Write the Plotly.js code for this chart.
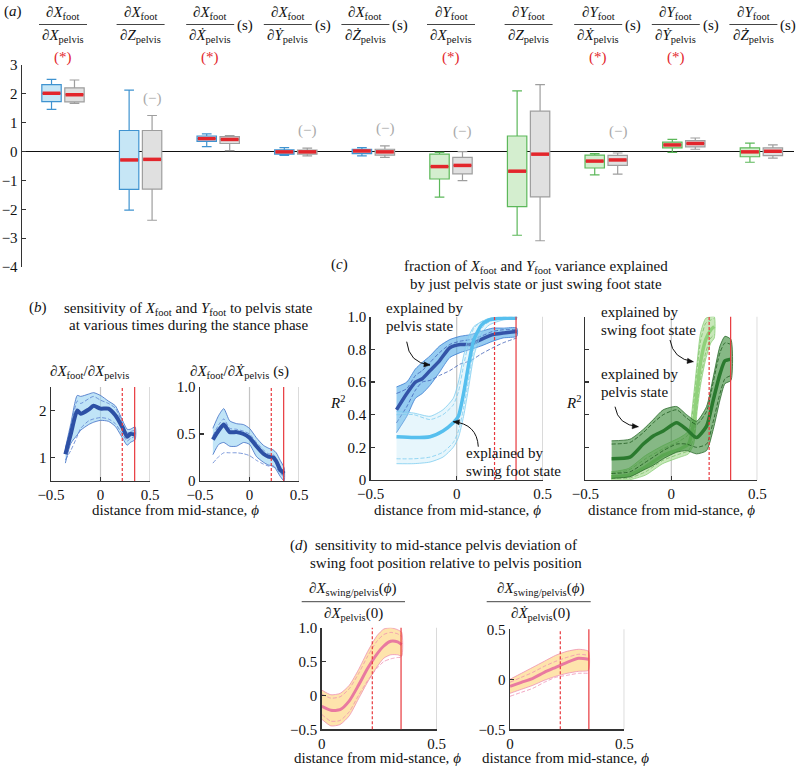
<!DOCTYPE html>
<html><head><meta charset="utf-8">
<script src="https://cdn.plot.ly/plotly-3.0.1.min.js"></script>
<style>html,body{margin:0;padding:0;background:#fff}</style>
</head><body><div id="chart" style="width:796px;height:767px"></div>
<script>
// ---------------- DATA ----------------
// (a) box summaries: coloured boxes (blue for X_foot, green for Y_foot) and grey boxes
const headNum = ['∂<i>X</i><sub>foot</sub>','∂<i>X</i><sub>foot</sub>','∂<i>X</i><sub>foot</sub>','∂<i>X</i><sub>foot</sub>','∂<i>X</i><sub>foot</sub>',
                 '∂<i>Y</i><sub>foot</sub>','∂<i>Y</i><sub>foot</sub>','∂<i>Y</i><sub>foot</sub>','∂<i>Y</i><sub>foot</sub>','∂<i>Y</i><sub>foot</sub>'];
const headDen = ['∂<i>X</i><sub>pelvis</sub>','∂<i>Z</i><sub>pelvis</sub>','∂<i>Ẋ</i><sub>pelvis</sub>','∂<i>Ẏ</i><sub>pelvis</sub>','∂<i>Ż</i><sub>pelvis</sub>',
                 '∂<i>X</i><sub>pelvis</sub>','∂<i>Z</i><sub>pelvis</sub>','∂<i>Ẋ</i><sub>pelvis</sub>','∂<i>Ẏ</i><sub>pelvis</sub>','∂<i>Ż</i><sub>pelvis</sub>'];
const headUnit = ['','','(s)','(s)','(s)','','','(s)','(s)','(s)'];
const starMark = ['(*)','','(*)','','','(*)','','(*)','(*)',''];
const dashMark = ['','(−)','','(−)','(−)','(−)','','(−)','',''];

const colLo  = [1.46,-2.03,0.17,-0.13,-0.15,-1.58,-2.90,-0.81,-0.03,-0.37];
const colQ1  = [1.73,-1.31,0.35,-0.09,-0.07,-0.95,-1.91,-0.57, 0.13,-0.18];
const colMed = [2.02,-0.29,0.45,-0.01, 0.02,-0.52,-0.68,-0.33, 0.23,-0.01];
const colQ3  = [2.32, 0.73,0.54, 0.06, 0.08,-0.09, 0.54,-0.12, 0.33, 0.13];
const colHi  = [2.50, 2.13,0.61, 0.14, 0.14,-0.03, 2.10,-0.07, 0.42, 0.29];

const grayLo  = [1.67,-2.38,0.03,-0.15,-0.20,-1.01,-3.09,-0.78,0.08,-0.23];
const grayQ1  = [1.72,-1.30,0.28,-0.09,-0.12,-0.77,-1.57,-0.48,0.16,-0.14];
const grayMed = [1.97,-0.27,0.42,-0.01,-0.01,-0.48,-0.09,-0.29,0.28, 0.01];
const grayQ3  = [2.21, 0.73,0.52, 0.05, 0.08,-0.20, 1.40,-0.13,0.38, 0.13];
const grayHi  = [2.48, 1.25,0.55, 0.12, 0.20, 0.00, 2.32,-0.05,0.47, 0.23];

const aTickVals = [-4,-3,-2,-1,0,1,2,3];

// (b) sensitivity curves
const bLx   = [-0.355,-0.30,-0.235,-0.20,-0.12,-0.07,0.00,0.08,0.15,0.22,0.27,0.30,0.35];
const bLm   = [1.07,1.50,2.00,1.93,2.02,2.10,2.04,2.04,1.90,1.65,1.44,1.50,1.49];
const bLup  = [1.20,1.72,2.32,2.30,2.35,2.38,2.32,2.20,2.10,1.80,1.60,1.60,1.65];
const bLlo  = [0.88,1.30,1.48,1.58,1.70,1.75,1.79,1.77,1.66,1.42,1.26,1.32,1.38];
const bLdh  = [1.15,1.62,2.20,2.15,2.25,2.30,2.22,2.15,2.05,1.74,1.52,1.55,1.58];
const bLdl  = [0.95,1.15,1.45,1.62,1.78,1.82,1.85,1.82,1.72,1.50,1.35,1.40,1.45];

const bRx   = [-0.37,-0.31,-0.26,-0.20,-0.13,-0.06,0.00,0.07,0.14,0.19,0.24,0.27,0.31,0.35];
const bRm   = [0.44,0.54,0.60,0.52,0.52,0.50,0.46,0.37,0.29,0.26,0.25,0.21,0.12,0.08];
const bRup  = [0.56,0.70,0.77,0.64,0.61,0.60,0.56,0.46,0.38,0.35,0.33,0.30,0.22,0.14];
const bRlo  = [0.28,0.39,0.41,0.37,0.37,0.41,0.39,0.26,0.20,0.17,0.16,0.12,0.05,0.00];
const bRdh  = [0.48,0.60,0.66,0.56,0.55,0.53,0.50,0.41,0.33,0.29,0.28,0.24,0.15,0.10];
const bRdl  = [0.19,0.26,0.30,0.30,0.30,0.29,0.27,0.22,0.18,0.16,0.15,0.14,0.08,0.04];

// (c) R^2 curves
const cPx   = [-0.35,-0.29,-0.24,-0.20,-0.155,-0.10,-0.04,0.02,0.08,0.14,0.21,0.27,0.35];
const cPm   = [0.43,0.53,0.60,0.62,0.67,0.73,0.81,0.83,0.83,0.86,0.89,0.90,0.91];
const cPup  = [0.57,0.60,0.68,0.72,0.76,0.82,0.86,0.88,0.89,0.91,0.93,0.93,0.93];
const cPlo  = [0.29,0.39,0.50,0.53,0.58,0.66,0.75,0.78,0.80,0.82,0.85,0.87,0.88];
const cPdh  = [0.53,0.56,0.64,0.67,0.72,0.78,0.83,0.85,0.86,0.88,0.91,0.92,0.92];
const cPdl  = [0.35,0.45,0.55,0.60,0.61,0.64,0.67,0.71,0.73,0.77,0.81,0.84,0.87];

const cSx   = [-0.35,-0.25,-0.155,-0.08,-0.02,0.01,0.04,0.07,0.10,0.145,0.19,0.27,0.35];
const cSm   = [0.265,0.26,0.265,0.30,0.35,0.39,0.53,0.71,0.86,0.95,0.98,0.99,0.99];
const cSup  = [0.42,0.41,0.39,0.43,0.50,0.60,0.76,0.88,0.94,0.97,0.99,1.00,1.00];
const cSlo  = [0.10,0.10,0.11,0.14,0.20,0.26,0.39,0.57,0.76,0.90,0.95,0.98,0.99];
const cSdh  = [0.40,0.40,0.37,0.40,0.46,0.54,0.70,0.84,0.93,0.97,0.99,1.00,1.00];
const cSdl  = [0.13,0.13,0.14,0.17,0.23,0.30,0.44,0.62,0.80,0.93,0.97,0.99,0.99];

const gPx   = [-0.347,-0.24,-0.163,-0.105,-0.047,0.031,0.089,0.147,0.205,0.244,0.283,0.312,0.347];
const gPm   = [0.13,0.14,0.22,0.27,0.30,0.35,0.31,0.26,0.33,0.49,0.65,0.73,0.74];
const gPup  = [0.24,0.25,0.31,0.37,0.43,0.45,0.40,0.36,0.45,0.63,0.82,0.88,0.86];
const gPlo  = [0.01,0.02,0.06,0.09,0.13,0.17,0.18,0.16,0.18,0.31,0.49,0.59,0.61];
const gPdh  = [0.22,0.23,0.29,0.35,0.40,0.43,0.38,0.34,0.42,0.60,0.78,0.84,0.83];
const gPdl  = [0.04,0.05,0.10,0.14,0.18,0.22,0.22,0.20,0.22,0.36,0.53,0.62,0.64];

const gSx   = [-0.35,-0.25,-0.15,-0.05,0.05,0.10,0.13,0.15,0.17,0.20,0.23,0.25];
const gSm   = [0.02,0.03,0.08,0.15,0.19,0.22,0.35,0.55,0.72,0.86,0.92,0.94];
const gSup  = [0.05,0.07,0.15,0.21,0.26,0.30,0.52,0.72,0.90,0.99,1.00,1.00];
const gSlo  = [0.00,0.00,0.03,0.10,0.14,0.16,0.22,0.42,0.58,0.74,0.84,0.87];
const gSdh  = [0.04,0.06,0.13,0.19,0.24,0.28,0.47,0.68,0.85,0.96,0.98,0.99];
const gSdl  = [0.01,0.01,0.05,0.12,0.16,0.18,0.26,0.46,0.62,0.78,0.87,0.89];

// (d) sensitivity of swing/pelvis position
const dLx   = [0,0.04,0.08,0.12,0.16,0.20,0.24,0.27,0.30,0.33,0.348];
const dLm   = [-0.16,-0.22,-0.21,-0.08,0.15,0.40,0.61,0.73,0.80,0.79,0.75];
const dLup  = [0.08,0.01,0.03,0.15,0.38,0.65,0.88,0.98,1.00,0.97,0.93];
const dLlo  = [-0.35,-0.45,-0.43,-0.30,-0.05,0.20,0.42,0.55,0.60,0.60,0.58];
const dLdh  = [0.02,-0.04,-0.02,0.10,0.32,0.58,0.80,0.90,0.93,0.91,0.87];
const dLdl  = [-0.28,-0.38,-0.37,-0.24,0.00,0.22,0.40,0.50,0.54,0.56,0.56];

const dRx   = [0,0.05,0.10,0.15,0.20,0.25,0.30,0.343];
const dRm   = [-0.07,-0.03,0.01,0.07,0.12,0.17,0.21,0.20];
const dRup  = [0.00,0.06,0.12,0.18,0.24,0.28,0.30,0.28];
const dRlo  = [-0.14,-0.10,-0.06,-0.01,0.03,0.06,0.08,0.09];
const dRdh  = [-0.03,0.02,0.07,0.13,0.18,0.22,0.25,0.24];
const dRdl  = [-0.17,-0.13,-0.09,-0.03,0.02,0.04,0.06,0.06];

// reference phases (grey guides and red stance markers)
const greyGuides = [0, 0.5];
const stanceDashed = 0.22;
const stanceSolid = 0.345;

// ---------------- BUILD ----------------
const W = 796, H = 767;
const FONT = "'Liberation Serif', 'Times New Roman', 'DejaVu Serif', serif";
const px = x => x / W, py = y => 1 - y / H;
const idx = colMed.map((_, i) => i);
const OFF = 0.148, BW = 0.25;
const colPos = idx.map(i => i - OFF);
const grayPos = idx.map(i => i + OFF);
const isX = idx.map(i => i < 5);

const traces = [];
function boxTrace(pos, lo, q1, med, q3, hi, sel, line, fill) {
  const k = idx.filter(sel);
  return {type:'box', x:k.map(i=>pos[i]), lowerfence:k.map(i=>lo[i]), q1:k.map(i=>q1[i]),
    median:k.map(i=>med[i]), q3:k.map(i=>q3[i]), upperfence:k.map(i=>hi[i]),
    width:BW, whiskerwidth:0.5, boxpoints:false, line:{color:line,width:1.2}, fillcolor:fill,
    hoverinfo:'skip', xaxis:'x', yaxis:'y'};
}
traces.push(boxTrace(colPos,colLo,colQ1,colMed,colQ3,colHi,i=>isX[i],'#3f93d0','#c6e6f6'));
traces.push(boxTrace(colPos,colLo,colQ1,colMed,colQ3,colHi,i=>!isX[i],'#5cb85a','#d4eecf'));
traces.push(boxTrace(grayPos,grayLo,grayQ1,grayMed,grayQ3,grayHi,()=>true,'#9e9e9e','#e0e0e0'));
function medTrace(pos, med) {
  const x = [], y = [];
  idx.forEach(i => { x.push(pos[i]-BW/2+0.01, pos[i]+BW/2-0.01, null); y.push(med[i], med[i], null); });
  return {type:'scatter', mode:'lines', x, y, line:{color:'#e3262c', width:3.5}, hoverinfo:'skip', xaxis:'x', yaxis:'y'};
}
traces.push(medTrace(colPos, colMed));
traces.push(medTrace(grayPos, grayMed));

function band(xs, m, up, lo, dh, dl, ax, c, mw) {
  const xa = 'x'+ax, ya = 'y'+ax;
  const poly = {type:'scatter', mode:'lines', x: xs.concat(xs.slice().reverse()),
    y: up.concat(lo.slice().reverse()), fill:'toself', fillcolor:c.fill,
    line:{color:c.edge, width:0.8, shape:'spline', smoothing:0.6}, hoverinfo:'skip', xaxis:xa, yaxis:ya};
  const d1 = {type:'scatter', mode:'lines', x:xs, y:dh, line:{color:c.dash, width:0.8, dash:'4px,2px', shape:'spline', smoothing:0.6}, hoverinfo:'skip', xaxis:xa, yaxis:ya};
  const d2 = {type:'scatter', mode:'lines', x:xs, y:dl, line:{color:c.dash, width:0.8, dash:'4px,2px', shape:'spline', smoothing:0.6}, hoverinfo:'skip', xaxis:xa, yaxis:ya};
  const ml = {type:'scatter', mode:'lines', x:xs, y:m, line:{color:c.mean, width:mw, shape:'spline', smoothing:0.6}, hoverinfo:'skip', xaxis:xa, yaxis:ya};
  return [poly, d1, d2, ml];
}
const blueB = {fill:'rgba(150,210,242,0.6)', edge:'#3d6cc4', dash:'#5a7fd0', mean:'#2d50a5'};
traces.push(...band(bLx,bLm,bLup,bLlo,bLdh,bLdl,'2',blueB,4));
traces.push(...band(bRx,bRm,bRup,bRlo,bRdh,bRdl,'3',blueB,4));
traces.push(...band(cPx,cPm,cPup,cPlo,cPdh,cPdl,'4',{fill:'rgba(80,170,232,0.6)', edge:'#3a7bd0', dash:'#3f5fb8', mean:'#3454a8'},3.5));
traces.push(...band(cSx,cSm,cSup,cSlo,cSdh,cSdl,'4',{fill:'rgba(175,224,246,0.3)', edge:'#7dcdf0', dash:'#7dcdf0', mean:'#56bfee'},3.5));
traces.push(...band(gSx,gSm,gSup,gSlo,gSdh,gSdl,'5',{fill:'rgba(175,222,155,0.7)', edge:'#8ccf78', dash:'#7cbf68', mean:'#8fd17a'},3.5));
traces.push(...band(gPx,gPm,gPup,gPlo,gPdh,gPdl,'5',{fill:'rgba(60,140,58,0.62)', edge:'#2a6a2a', dash:'#1f5a1f', mean:'#2a7a2e'},3.5));
const pinkB = {fill:'rgb(254,228,172)', edge:'#ef90b2', dash:'#ef90b2', mean:'#e97aa0'};
traces.push(...band(dLx,dLm,dLup,dLlo,dLdh,dLdl,'6',pinkB,3));
traces.push(...band(dRx,dRm,dRup,dRlo,dRdh,dRdl,'7',pinkB,3));

// axes
const tf = {family:FONT, size:15, color:'#111'};
const common = {showline:true, linecolor:'#333', linewidth:1.4, ticks:'inside', ticklen:4, tickwidth:1.2, tickcolor:'#333',
  showgrid:false, zeroline:false, tickfont:tf, fixedrange:true};
function axis(domPx, range, extra) {
  return Object.assign({domain:[px(domPx[0]), px(domPx[1])], range}, common, extra||{});
}
function yaxisD(domPx, range, extra) {
  return Object.assign({domain:[py(domPx[0]), py(domPx[1])], range}, common, extra||{});
}
const xb = {tickmode:'array', tickvals:[-0.5,0,0.5], ticktext:['−0.5','0','0.5']};
const xd = {tickmode:'array', tickvals:[0,0.5], ticktext:['0','0.5']};
const cTicks = [0,0.2,0.4,0.6,0.8,1.0];
const cText = ['0','0.2','0.4','0.6','0.8','1.0'];

const layout = {
  width:W, height:H, margin:{l:0,r:0,t:0,b:0}, showlegend:false,
  paper_bgcolor:'#fff', plot_bgcolor:'rgba(0,0,0,0)', font:{family:FONT, size:15, color:'#111'},
  xaxis: {domain:[px(22), px(794)], range:[(22-63)/77.6, (794-63)/77.6], visible:false, fixedrange:true},
  yaxis: Object.assign({}, common, {domain:[py(267), py(65)], range:[-4,3], anchor:'x', tickmode:'array', tickvals:aTickVals,
    ticktext:aTickVals.map(v => v < 0 ? '−'+Math.abs(v) : String(v)),
    zeroline:true, zerolinecolor:'#111', zerolinewidth:1.5}),
  xaxis2: axis([51,150], [-0.5,0.5], Object.assign({anchor:'y2'}, xb)),
  yaxis2: yaxisD([481,387], [0.5,2.5], {anchor:'x2', tickmode:'array', tickvals:[1,2], ticktext:['1','2']}),
  xaxis3: axis([200,299], [-0.5,0.5], Object.assign({anchor:'y3'}, xb)),
  yaxis3: yaxisD([481,387], [0,1], {anchor:'x3', tickmode:'array', tickvals:[0,0.5,1], ticktext:['0','0.5','1.0']}),
  xaxis4: axis([370.7,542.7], [-0.5,0.5], Object.assign({anchor:'y4'}, xb)),
  yaxis4: yaxisD([480,316.7], [0,1], {anchor:'x4', tickmode:'array', tickvals:cTicks, ticktext:cText}),
  xaxis5: axis([585.3,757.3], [-0.5,0.5], Object.assign({anchor:'y5'}, xb)),
  yaxis5: yaxisD([480,316.7], [0,1], {anchor:'x5', tickmode:'array', tickvals:cTicks, showticklabels:false}),
  xaxis6: axis([321.7,436.7], [0,0.5], Object.assign({anchor:'y6'}, xd)),
  yaxis6: yaxisD([729.3,627.7], [-0.5,1.0], {anchor:'x6', tickmode:'array', tickvals:[-0.5,0,0.5,1.0], ticktext:['−0.5','0','0.5','1.0']}),
  xaxis7: axis([510,624.3], [0,0.5], Object.assign({anchor:'y7'}, xd)),
  yaxis7: yaxisD([729.3,629.3], [-0.5,0.5], {anchor:'x7', tickmode:'array', tickvals:[-0.5,0,0.5], ticktext:['−0.5','0','0.5']}),
  shapes: [], annotations: []
};

// guide lines
function vline(ax, x, color, dash, layer) {
  layout.shapes.push({type:'line', xref:'x'+ax, yref:'y'+ax+' domain', x0:x, x1:x, y0:0, y1:1,
    line:{color, width:1.2, dash}, layer});
}
['2','3','4','5'].forEach(ax => greyGuides.forEach(g => vline(ax, g, '#c4c4c4', 'solid', 'below')));
['6','7'].forEach(ax => vline(ax, greyGuides[1], '#c4c4c4', 'solid', 'below'));
['2','3','4','5','6','7'].forEach(ax => { vline(ax, stanceDashed, '#e8383d', '3px,2px', 'above'); vline(ax, stanceSolid, '#e8383d', 'solid', 'above'); });

const F = (c) => ({family:FONT, size:15, color:c||'#111'});
function ann(text, x, y, o) {
  layout.annotations.push(Object.assign({text, x:px(x), y:py(y), xref:'paper', yref:'paper', showarrow:false,
    xanchor:'center', yanchor:'middle', font:F()}, o||{}));
}
function fracBar(x0, x1, y, xref) {
  layout.shapes.push({type:'line', xref:xref||'paper', yref:'paper', x0, x1, y0:py(y), y1:py(y), line:{color:'#444', width:1}});
}

// (a) headers
const FR_OFF = 8/77.6, FR_HALF = 24/77.6;
idx.forEach(i => {
  const c = headUnit[i] ? i - FR_OFF : i;
  layout.annotations.push({text:headNum[i], x:c, y:py(24), xref:'x', yref:'paper', yanchor:'bottom', xanchor:'center', showarrow:false, font:F()});
  layout.annotations.push({text:headDen[i], x:c, y:py(25), xref:'x', yref:'paper', yanchor:'top', xanchor:'center', showarrow:false, font:F()});
  fracBar(c - FR_HALF, c + FR_HALF, 24.5, 'x');
  if (headUnit[i]) layout.annotations.push({text:headUnit[i], x:c + FR_HALF + 0.01, y:py(25), xref:'x', yref:'paper', xanchor:'left', yanchor:'middle', showarrow:false, font:F()});
  if (starMark[i]) layout.annotations.push({text:starMark[i], x:c, y:py(57), xref:'x', yref:'paper', xanchor:'center', yanchor:'middle', showarrow:false, font:F('#e3262c')});
  if (dashMark[i]) layout.annotations.push({text:dashMark[i], x:grayPos[i], y:Math.max(0.68, grayHi[i] + 0.6), xref:'x', yref:'y', xanchor:'center', yanchor:'middle', showarrow:false, font:F('#aaa')});
});
ann('(<i>a</i>)', 2, 11, {xanchor:'left'});

// (b)
ann('(<i>b</i>)', 27, 307, {xanchor:'left'});
ann('sensitivity of <i>X</i><sub>foot</sub> and <i>Y</i><sub>foot</sub> to pelvis state', 188, 309);
ann('at various times during the stance phase', 188, 325);
ann('∂<i>X</i><sub>foot</sub>/∂<i>X</i><sub>pelvis</sub>', 89, 372);
ann('∂<i>X</i><sub>foot</sub>/∂<i>Ẋ</i><sub>pelvis</sub> (s)', 239, 372);
ann('distance from mid-stance, <i>ϕ</i>', 175, 510);

// (c)
ann('(<i>c</i>)', 329, 265, {xanchor:'left'});
ann('fraction of <i>X</i><sub>foot</sub> and <i>Y</i><sub>foot</sub> variance explained', 536, 267);
ann('by just pelvis state or just swing foot state', 536, 284);
ann('<i>R</i><sup>2</sup>', 337, 402);
ann('<i>R</i><sup>2</sup>', 573, 402);
ann('distance from mid-stance, <i>ϕ</i>', 457, 510);
ann('distance from mid-stance, <i>ϕ</i>', 671, 510);
ann('explained by', 384, 308, {xanchor:'left'});
ann('pelvis state', 384, 326, {xanchor:'left'});
ann('explained by', 464, 453, {xanchor:'left'});
ann('swing foot state', 464, 471, {xanchor:'left'});
ann('explained by', 599, 312, {xanchor:'left'});
ann('swing foot state', 599, 330, {xanchor:'left'});
ann('explained by', 599, 374, {xanchor:'left'});
ann('pelvis state', 599, 392, {xanchor:'left'});

function curveArrow(x0,y0,cx,cy,x1,y1) {
  const P = (x,y) => px(x)+','+py(y);
  layout.shapes.push({type:'path', xref:'paper', yref:'paper', path:'M '+P(x0,y0)+' Q '+P(cx,cy)+' '+P(x1,y1),
    line:{color:'#111', width:1}});
  let dx = x1-cx, dy = y1-cy; const L = Math.hypot(dx,dy); dx/=L; dy/=L;
  const bx = x1-dx*6, by = y1-dy*6, nx = -dy*2.6, ny = dx*2.6;
  layout.shapes.push({type:'path', xref:'paper', yref:'paper',
    path:'M '+P(x1,y1)+' L '+P(bx+nx,by+ny)+' L '+P(bx-nx,by-ny)+' Z', fillcolor:'#111', line:{color:'#111', width:0.5}});
}
curveArrow(406.7,341.7, 409,363, 430,365);
curveArrow(478.3,446.7, 477,424, 453.3,421.7);
curveArrow(670,340, 673,359, 693.3,361.7);
curveArrow(615,406.7, 618,425, 638.3,426.7);

// (d)
ann('(<i>d</i>)', 288, 545, {xanchor:'left'});
ann('sensitivity to mid-stance pelvis deviation of', 446, 545);
ann('swing foot position relative to pelvis position', 446, 563);
ann('∂<i>X</i><sub>swing/pelvis</sub>(<i>ϕ</i>)', 352, 600, {yanchor:'bottom'});
fracBar(px(301.7), px(405), 601.7);
ann('∂<i>X</i><sub>pelvis</sub>(0)', 353, 603, {yanchor:'top'});
ann('∂<i>X</i><sub>swing/pelvis</sub>(<i>ϕ</i>)', 540, 600, {yanchor:'bottom'});
fracBar(px(486.7), px(590.7), 601.7);
ann('∂<i>Ẋ</i><sub>pelvis</sub>(0)', 540, 603, {yanchor:'top'});
ann('distance from mid-stance, <i>ϕ</i>', 377, 758);
ann('distance from mid-stance, <i>ϕ</i>', 565, 758);

Plotly.newPlot('chart', traces, layout, {staticPlot:true, displayModeBar:false});
</script></body></html>
